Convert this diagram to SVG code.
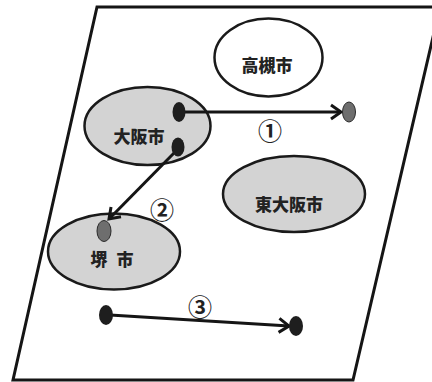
<svg xmlns="http://www.w3.org/2000/svg" width="432" height="382" viewBox="0 0 432 382">
<style>
.city{stroke:#1a1a1a;stroke-width:2.5}
.w{fill:#ffffff}
.g{fill:#d3d3d3}
.t{font-family:"Noto Sans CJK JP","Noto Sans CJK SC",sans-serif;font-weight:900;font-size:17px;fill:#222;text-anchor:middle}
.n{font-family:"Noto Sans CJK JP","Noto Sans CJK SC",sans-serif;font-weight:bold;font-size:24px;fill:#222;text-anchor:middle}
.ln{stroke:#151515;stroke-width:3;fill:none}
.dk{fill:#1e1e1e}
.gr{fill:#6e6e6e;stroke:#2a2a2a;stroke-width:1}
</style>
<defs>
<marker id="ah" markerUnits="userSpaceOnUse" markerWidth="16" markerHeight="18" refX="12" refY="8" orient="auto" viewBox="0 0 16 16">
<path d="M2,1 L12,8 L2,15" fill="none" stroke="#151515" stroke-width="3" stroke-linejoin="miter"/>
</marker>
</defs>
<rect width="432" height="382" fill="#ffffff"/>
<path id="plane" d="M97,7 L440,7 L353,380 L13,380 Z" fill="#ffffff" stroke="#151515" stroke-width="3"/>
<g id="takatsuki">
<ellipse class="city w" cx="268.5" cy="57.5" rx="54" ry="39"/>
<text class="t" x="267" y="72">高槻市</text>
</g>
<g id="osaka">
<ellipse class="city g" cx="147.5" cy="126" rx="63" ry="39"/>
<text class="t" x="139" y="143">大阪市</text>
</g>
<g id="higashiosaka">
<ellipse class="city g" cx="294" cy="194" rx="71" ry="38"/>
<text class="t" x="289" y="211">東大阪市</text>
</g>
<g id="sakai">
<ellipse class="city g" cx="114" cy="251.5" rx="66" ry="38"/>
<text class="t" x="112" y="266" style="word-spacing:5px">堺 市</text>
</g>
<g id="connectors">
<line class="ln" x1="182" y1="112" x2="341" y2="112" marker-end="url(#ah)"/>
<line class="ln" x1="176" y1="151" x2="109" y2="219" marker-end="url(#ah)"/>
<line class="ln" x1="110" y1="315" x2="289" y2="326" marker-end="url(#ah)"/>
</g>
<g id="points">
<ellipse class="dk" cx="179" cy="112" rx="6.5" ry="10"/>
<ellipse class="dk" cx="178" cy="147" rx="6.5" ry="9.5"/>
<ellipse class="gr" cx="349" cy="112" rx="6.5" ry="10"/>
<ellipse class="gr" cx="104" cy="231" rx="7" ry="10.5"/>
<ellipse class="dk" cx="106" cy="315" rx="7" ry="10"/>
<ellipse class="dk" cx="296" cy="326" rx="7" ry="10"/>
</g>
<g id="labels">
<text class="n" x="270" y="140">①</text>
<text class="n" x="162" y="219">②</text>
<text class="n" x="200" y="316">③</text>
</g>
</svg>
